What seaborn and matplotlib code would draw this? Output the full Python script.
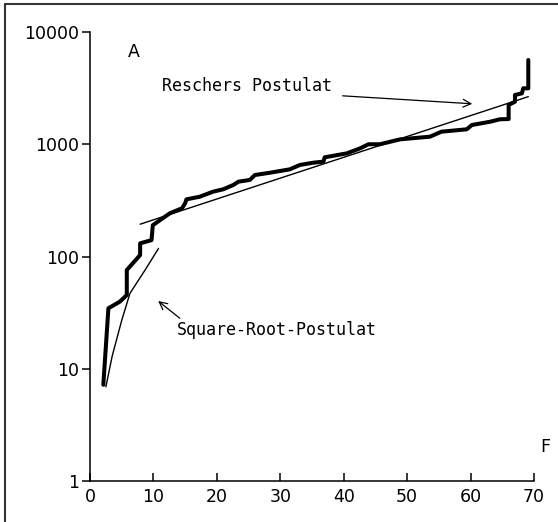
import matplotlib
matplotlib.use("Agg")
import matplotlib.pyplot as plt
import seaborn as sns
import pandas as pd
from matplotlib.lines import Line2D

# ---- data ----
obs_x = [2.1, 2.9, 4.7, 5.8, 5.8, 7.9, 7.9, 9.7, 9.9, 12.6, 14.5, 15.0, 15.2, 17.3,
         19.4, 21.0, 22.6, 23.4, 25.2, 26.0, 28.4, 31.5, 33.1, 35.2, 36.8, 37.0,
         40.5, 42.6, 43.9, 45.7, 48.9, 53.6, 55.4, 59.4, 60.2, 63.1, 64.6, 66.0,
         66.0, 67.0, 67.0, 68.1, 68.3, 69.1, 69.1]
obs_y = [7.2, 34.6, 39.6, 45.4, 75.8, 103, 131, 140, 190, 243, 269, 298, 323, 341,
         378, 397, 434, 464, 481, 532, 558, 598, 654, 685, 700, 765,
         830, 920, 1000, 1000, 1106, 1168, 1294, 1359, 1484, 1588, 1668, 1678,
         2238, 2393, 2748, 2843, 3150, 3150, 5630]

rescher_x = [7.9, 69.1]
rescher_y = [194, 2655]

sqrt_x = [2.5, 3.5, 5.0, 6.3, 8.7, 10.8]
sqrt_y = [6.9, 13.0, 27.0, 47.0, 76.0, 118.0]

y_ticks = [1, 10, 100, 1000, 10000]
y_labels = ["1", "10", "100", "1000", "10000"]
x_ticks = [0, 10, 20, 30, 40, 50, 60, 70]
x_labels = ["0", "10", "20", "30", "40", "50", "60", "70"]

label_rescher = "Reschers Postulat"
label_sqrt = "Square-Root-Postulat"
panel_label = "A"
axis_label_x = "F"

# ---- figure ----
sns.set_style("ticks")
plt.rcParams['font.family'] = ['DejaVu Sans']
plt.rcParams['text.color'] = 'black'
fig = plt.figure(figsize=(5.58, 5.22), dpi=100)
ax = fig.add_axes([0.1613, 0.0785, 0.7957, 0.8602])

df_obs = pd.DataFrame({"x": obs_x, "y": obs_y})
df_r = pd.DataFrame({"x": rescher_x, "y": rescher_y})
df_s = pd.DataFrame({"x": sqrt_x, "y": sqrt_y})

sns.lineplot(data=df_obs, x="x", y="y", sort=False, estimator=None, ax=ax,
             color="black", linewidth=2.9)
sns.lineplot(data=df_r, x="x", y="y", sort=False, estimator=None, ax=ax,
             color="black", linewidth=1.0)
sns.lineplot(data=df_s, x="x", y="y", sort=False, estimator=None, ax=ax,
             color="black", linewidth=1.0)

ax.set_yscale("log")
ax.set_xlim(0, 70)
ax.set_ylim(1, 10000)
ax.set_yticks(y_ticks)
ax.set_yticklabels(y_labels)
ax.set_xticks(x_ticks)
ax.set_xticklabels(x_labels)
ax.minorticks_off()
ax.set_xlabel("")
ax.set_ylabel("")

for s in ["top", "right"]:
    ax.spines[s].set_visible(False)
for s in ["left", "bottom"]:
    ax.spines[s].set_linewidth(1.1)
    ax.spines[s].set_color("black")

ax.tick_params(axis="y", direction="out", length=6, width=1.1, labelsize=12.5, pad=2, colors="black")
ax.tick_params(axis="x", direction="in", length=6, width=1.1, labelsize=12.5, pad=5, colors="black")

mono = "DejaVu Sans Mono"
ax.text(6.9, 6600, panel_label, fontsize=12.5, ha="center", va="center", color="black")
ax.text(71.7, 2.0, axis_label_x, fontsize=12.5, ha="center", va="center", color="black")

ax.text(11.4, 3300, label_rescher, fontsize=12, family=mono, ha="left", va="center", color="black")
ax.annotate("", xy=(60.7, 2285), xytext=(39.4, 2710),
            arrowprops=dict(arrowstyle="->", color="black", lw=0.9,
                            mutation_scale=14))

ax.text(13.7, 22.0, label_sqrt, fontsize=12, family=mono, ha="left", va="center", color="black")
ax.annotate("", xy=(10.4, 41.6), xytext=(14.5, 27.2),
            arrowprops=dict(arrowstyle="->", color="black", lw=0.9,
                            mutation_scale=14))

# scanned frame (left and top edges)
fig.add_artist(Line2D([5/558, 5/558], [0, 1 - 4/522], transform=fig.transFigure,
                      color="#333333", linewidth=1.5))
fig.add_artist(Line2D([5/558, 1], [1 - 4/522, 1 - 4/522], transform=fig.transFigure,
                      color="#333333", linewidth=1.5))

fig.savefig("out.png", dpi=100, facecolor="white")
